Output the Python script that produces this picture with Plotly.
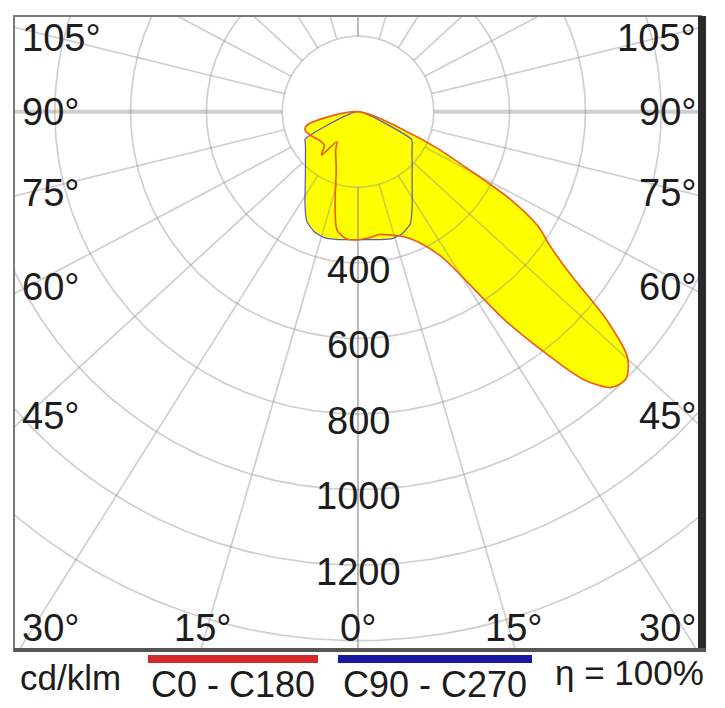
import numpy as np
import plotly.graph_objects as go

# ---------------- data (cd/klm) ----------------
# C0 - C180 plane (red): C0 drawn on the right, C180 on the left
gamma_c0 = [0, 5, 10, 15, 20, 25, 30, 32.5, 35, 37.5, 40, 42.5, 45, 47.5, 50, 52.5, 55, 57.5, 60, 62.5, 65, 67.5, 70]
I_c0 = [339, 335, 330, 338, 352, 382, 445, 530, 670, 795, 925, 990, 1000, 965, 855, 705, 618, 563, 465, 325, 236, 150, 0]

gamma_c180 = [0, 5, 10, 15, 20, 25, 30, 35, 40, 45, 50, 55, 60, 65, 70, 75, 80]
I_c180 = [339, 338, 318, 232, 168, 138, 118, 97, 150, 125, 125, 128, 135, 142, 148, 140, 0]

# C90 - C270 plane (blue): C90 on the right, C270 on the left
gamma_c90 = [0, 5, 10, 15, 20, 25, 30, 35, 40, 45, 50, 55, 60, 62.5, 65]
I_c90 = [339, 340, 344, 348, 343, 327, 286, 249, 222, 202, 186, 174, 165, 160, 0]
gamma_c270 = [0, 5, 10, 15, 20, 25, 30, 35, 40, 45, 50, 55, 60, 62.5, 65]
I_c270 = [339, 340, 343, 345, 338, 320, 280, 243, 216, 196, 181, 169, 161, 158, 0]

ring_values = [200, 400, 600, 800, 1000, 1200, 1400]
ring_labels = ["400", "600", "800", "1000", "1200"]
ring_label_values = [400, 600, 800, 1000, 1200]
radial_angles = list(range(0, 181, 15))
side_angles = [105, 90, 75, 60, 45]
bottom_angles = [-30, -15, 0, 15, 30]
legend_unit = "cd/klm"
legend_c0 = "C0 - C180"
legend_c90 = "C90 - C270"
efficiency = "η = 100%"

# ---------------- layout geometry ----------------
# page has an 8px body margin: the figure is placed at (8, 8) in the window
OFF = 8
W, H = 725 - OFF, 708 - OFF
S = 0.379                    # pixels per cd/klm
CX, CY = 358, 110            # pole position (window px)
BL, BR, BT, BB = 15, 700, 15, 650   # plot box (window px)
K_LINE = 0.92                # vertical squeeze of the angle grid in the original drawing
K_LAB = 0.89

def px2x(px):
    return (px - CX) / S

def py2y(py):
    return (CY - py) / S

def ppx(px):
    return (px - BL) / (BR - BL)

def ppy(py):
    return (BB - py) / (BB - BT)

GRID = "rgba(140,140,140,0.42)"
FONT = "Liberation Sans"
TXT = "#1c1c1c"

fig = go.Figure()

def half(gam, val, side):
    g = np.radians(np.array(gam, dtype=float))
    v = np.array(val, dtype=float)
    return side * v * np.sin(g), -v * np.cos(g)

def closed_curve(g_left, v_left, g_right, v_right):
    xl, yl = half(g_left, v_left, -1)
    xr, yr = half(g_right, v_right, 1)
    x = np.concatenate([xl[::-1], xr])
    y = np.concatenate([yl[::-1], yr])
    return x, y

xb, yb = closed_curve(gamma_c270, I_c270, gamma_c90, I_c90)
xr_, yr_ = closed_curve(gamma_c180, I_c180, gamma_c0, I_c0)

# yellow fills
fig.add_trace(go.Scatter(x=xb, y=yb, mode="lines", fill="toself", fillcolor="#ffff00",
                         line=dict(width=0, shape="spline", smoothing=0.5),
                         hoverinfo="skip", showlegend=False))
fig.add_trace(go.Scatter(x=xr_, y=yr_, mode="lines", fill="toself", fillcolor="#ffff00",
                         line=dict(width=0, shape="spline", smoothing=0.8),
                         hoverinfo="skip", showlegend=False))

# grid: rings
t = np.linspace(0, 2 * np.pi, 721)
gx, gy = [], []
for v in ring_values:
    gx += list(v * np.cos(t)) + [None]
    gy += list(v * np.sin(t)) + [None]
fig.add_trace(go.Scatter(x=gx, y=gy, mode="lines", line=dict(color=GRID, width=1.7),
                         hoverinfo="skip", showlegend=False))

# grid: angle lines (outside the first ring)
rx, ry = [], []
rx90, ry90 = [], []
for a in radial_angles:
    for side in (-1, 1):
        g = np.radians(a)
        dx, dy = side * np.sin(g), -np.cos(g) * K_LINE
        n = np.hypot(dx, dy)
        dx, dy = dx / n, dy / n
        x0, y0 = ring_values[0] * dx, ring_values[0] * dy
        x1, y1 = 3000 * dx, 3000 * dy
        if a == 90:
            rx90 += [x0, x1, None]
            ry90 += [y0, y1, None]
        else:
            rx += [x0, x1, None]
            ry += [y0, y1, None]
fig.add_trace(go.Scatter(x=rx, y=ry, mode="lines", line=dict(color=GRID, width=1.7),
                         hoverinfo="skip", showlegend=False))
fig.add_trace(go.Scatter(x=rx90, y=ry90, mode="lines", line=dict(color=GRID, width=4),
                         hoverinfo="skip", showlegend=False))

# curve outlines
fig.add_trace(go.Scatter(x=xb, y=yb, mode="lines",
                         line=dict(color="rgba(70,70,200,0.9)", width=1.2, shape="spline", smoothing=0.5),
                         hoverinfo="skip", showlegend=False))
fig.add_trace(go.Scatter(x=xr_, y=yr_, mode="lines",
                         line=dict(color="rgb(236,96,28)", width=1.7, shape="spline", smoothing=0.8),
                         hoverinfo="skip", showlegend=False))

ann = []
# ring labels
for lab, v in zip(ring_labels, ring_label_values):
    ann.append(dict(x=0, y=-(v + 18), text=lab, xref="x", yref="y", showarrow=False,
                    xanchor="center", yanchor="middle",
                    font=dict(family=FONT, size=38, color=TXT)))

# side angle labels (placed along the angle rays, near the box edges)
for a in side_angles:
    ypx = CY + (CX - BL) / np.tan(np.radians(a)) * K_LAB
    ypx = max(ypx, 36)
    for side in (-1, 1):
        ann.append(dict(x=px2x(20) if side < 0 else px2x(698), y=py2y(ypx),
                        text=f"{a}°", xref="x", yref="y", showarrow=False,
                        xanchor="left" if side < 0 else "right", yanchor="middle",
                        font=dict(family=FONT, size=38, color=TXT)))

# bottom angle labels
YB = 628
for a in bottom_angles:
    xpx = CX + (YB - CY) / K_LAB * np.tan(np.radians(a))
    if abs(a) == 30:
        anchor = "left" if a < 0 else "right"
        xpx = 20 if a < 0 else 698
    else:
        anchor = "center"
    ann.append(dict(x=px2x(xpx), y=py2y(YB), text=f"{abs(a)}°", xref="x", yref="y",
                    showarrow=False, xanchor=anchor, yanchor="middle",
                    font=dict(family=FONT, size=38, color=TXT)))

# legend row
ann.append(dict(x=ppx(18), y=ppy(678), text=legend_unit, xref="paper", yref="paper",
                showarrow=False, xanchor="left", yanchor="middle",
                font=dict(family=FONT, size=35, color=TXT)))
ann.append(dict(x=ppx(233), y=ppy(685), text=legend_c0, xref="paper", yref="paper",
                showarrow=False, xanchor="center", yanchor="middle",
                font=dict(family=FONT, size=36, color=TXT)))
ann.append(dict(x=ppx(435), y=ppy(685), text=legend_c90, xref="paper", yref="paper",
                showarrow=False, xanchor="center", yanchor="middle",
                font=dict(family=FONT, size=36, color=TXT)))
ann.append(dict(x=ppx(706), y=ppy(673), text=efficiency, xref="paper", yref="paper",
                showarrow=False, xanchor="right", yanchor="middle",
                font=dict(family=FONT, size=35, color=TXT)))

shapes = [
    dict(type="rect", xref="paper", yref="paper", x0=ppx(148), x1=ppx(318), y0=ppy(663), y1=ppy(655),
         fillcolor="#d42a2a", line=dict(width=0)),
    dict(type="rect", xref="paper", yref="paper", x0=ppx(338), x1=ppx(532), y0=ppy(663), y1=ppy(655),
         fillcolor="#1818a0", line=dict(width=0)),
    dict(type="rect", xref="paper", yref="paper", x0=ppx(698), x1=ppx(706), y0=ppy(652), y1=ppy(14),
         fillcolor="#2b2b2b", line=dict(width=0)),
    dict(type="rect", xref="paper", yref="paper", x0=ppx(14), x1=ppx(706), y0=ppy(652), y1=ppy(648),
         fillcolor="#555555", line=dict(width=0)),
]

fig.update_layout(
    width=W, height=H,
    margin=dict(l=BL - OFF, r=(W + OFF) - BR, t=BT - OFF, b=(H + OFF) - BB),
    paper_bgcolor="white", plot_bgcolor="white",
    showlegend=False,
    xaxis=dict(range=[px2x(BL), px2x(BR)], showgrid=False, zeroline=False, showticklabels=False,
               ticks="", showline=True, mirror=True, linecolor="#7a7a7a", linewidth=2, fixedrange=True),
    yaxis=dict(range=[py2y(BB), py2y(BT)], showgrid=False, zeroline=False, showticklabels=False,
               ticks="", showline=True, mirror=True, linecolor="#7a7a7a", linewidth=2, fixedrange=True),
    annotations=ann,
    shapes=shapes,
)

fig.write_html("out.html")
